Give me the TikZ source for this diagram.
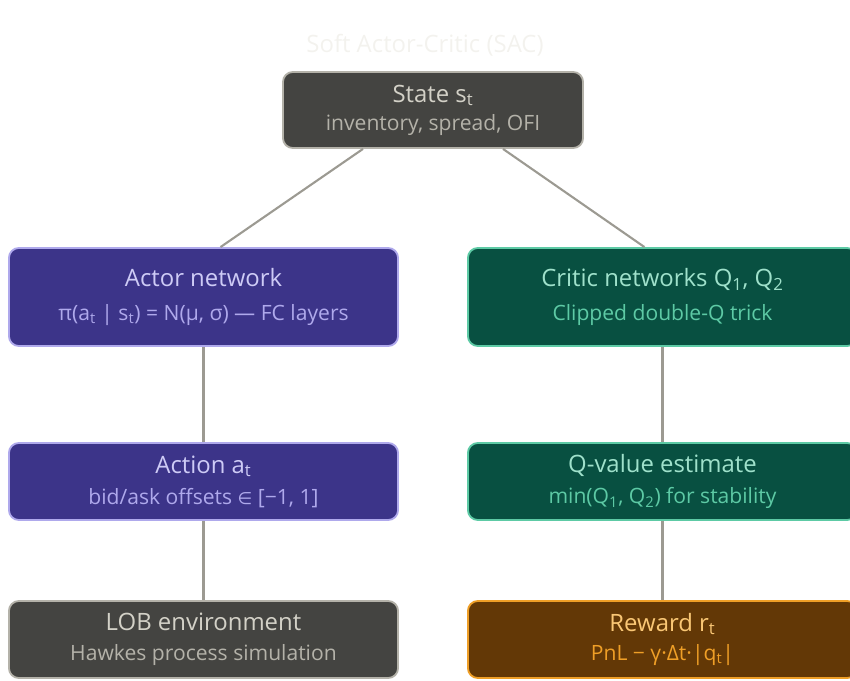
\documentclass[tikz,border=0pt]{standalone}
\usepackage{fontspec}
\setmainfont{Open Sans}
\newfontfamily\symfont{DejaVu Sans}

\definecolor{titlecol}{HTML}{F3F2EE}
\definecolor{linkgray}{HTML}{9C9A92}
\definecolor{grayfill}{HTML}{444441}
\definecolor{grayline}{HTML}{B4B2A9}
\definecolor{graytxt}{HTML}{D3D1C7}
\definecolor{purpfill}{HTML}{3C3489}
\definecolor{purpline}{HTML}{AFA9EC}
\definecolor{purptxt}{HTML}{CECBF6}
\definecolor{tealfill}{HTML}{085041}
\definecolor{tealline}{HTML}{5DCAA5}
\definecolor{tealtxt}{HTML}{9FE1CB}
\definecolor{brownfill}{HTML}{633806}
\definecolor{brownline}{HTML}{EF9F27}
\definecolor{browntxt}{HTML}{FAC775}

\newcommand{\subtxt}[2]{{\fontsize{15}{18}\selectfont\color{#1}#2}}

\tikzset{
  box/.style={draw, rounded corners=7pt, line width=1.3pt, align=center,
    minimum width=9.725cm, minimum height=1.925cm, font=\fontsize{17}{18}\selectfont},
  graybox/.style={box, fill=grayfill, draw=grayline, text=graytxt},
  purpbox/.style={box, fill=purpfill, draw=purpline, text=purptxt},
  tealbox/.style={box, fill=tealfill, draw=tealline, text=tealtxt},
  brownbox/.style={box, fill=brownfill, draw=brownline, text=browntxt},
  link/.style={draw=linkgray, line width=1.5pt},
}

\begin{document}
\begin{tikzpicture}[x=0.025cm, y=-0.025cm]
  \useasboundingbox (0,0) rectangle (850,680);

  % Title
  \node[font=\fontsize{17}{18}\selectfont, text=titlecol] (title) at (425,45) {Soft Actor-Critic (SAC)};

  % State
  \node[graybox, minimum width=7.5cm, minimum height=1.9cm] (state) at (433,110)
    {State s\textsubscript{t}\\[2pt]\subtxt{grayline}{inventory, spread, OFI}};

  % Actor side
  \node[purpbox, minimum height=2.45cm] (actor) at (203.5,297)
    {Actor network\\[6pt]\subtxt{purpline}{π(a\textsubscript{t} | s\textsubscript{t}) = N(μ, σ) — FC layers}};
  \node[purpbox] (action) at (203.5,481.5)
    {Action a\textsubscript{t}\\[4pt]\subtxt{purpline}{bid/ask offsets {\symfont\fontsize{12}{18}\selectfont ∈} [−1, 1]}};
  \node[graybox] (lob) at (203.5,639.5)
    {LOB environment\\[3pt]\subtxt{grayline}{Hawkes process simulation}};

  % Critic side
  \node[tealbox, minimum height=2.45cm] (critic) at (662.5,297)
    {Critic networks Q\textsubscript{1}, Q\textsubscript{2}\\[6pt]\subtxt{tealline}{Clipped double-Q trick}};
  \node[tealbox] (qvalue) at (662.5,481.5)
    {Q-value estimate\\[4pt]\subtxt{tealline}{min(Q\textsubscript{1}, Q\textsubscript{2}) for stability}};
  \node[brownbox] (reward) at (662.5,639.5)
    {Reward r\textsubscript{t}\\[3pt]\subtxt{brownline}{PnL − γ·Δt·|q\textsubscript{t}|}};

  % Links
  \draw[link] ([xshift=-1.75cm]state.south) -- ([xshift=0.425cm]actor.north);
  \draw[link] ([xshift=1.75cm]state.south) -- ([xshift=-0.45cm]critic.north);
  \draw[link] (actor) -- (action);
  \draw[link] (action) -- (lob);
  \draw[link] (critic) -- (qvalue);
  \draw[link] (qvalue) -- (reward);
\end{tikzpicture}
\end{document}
